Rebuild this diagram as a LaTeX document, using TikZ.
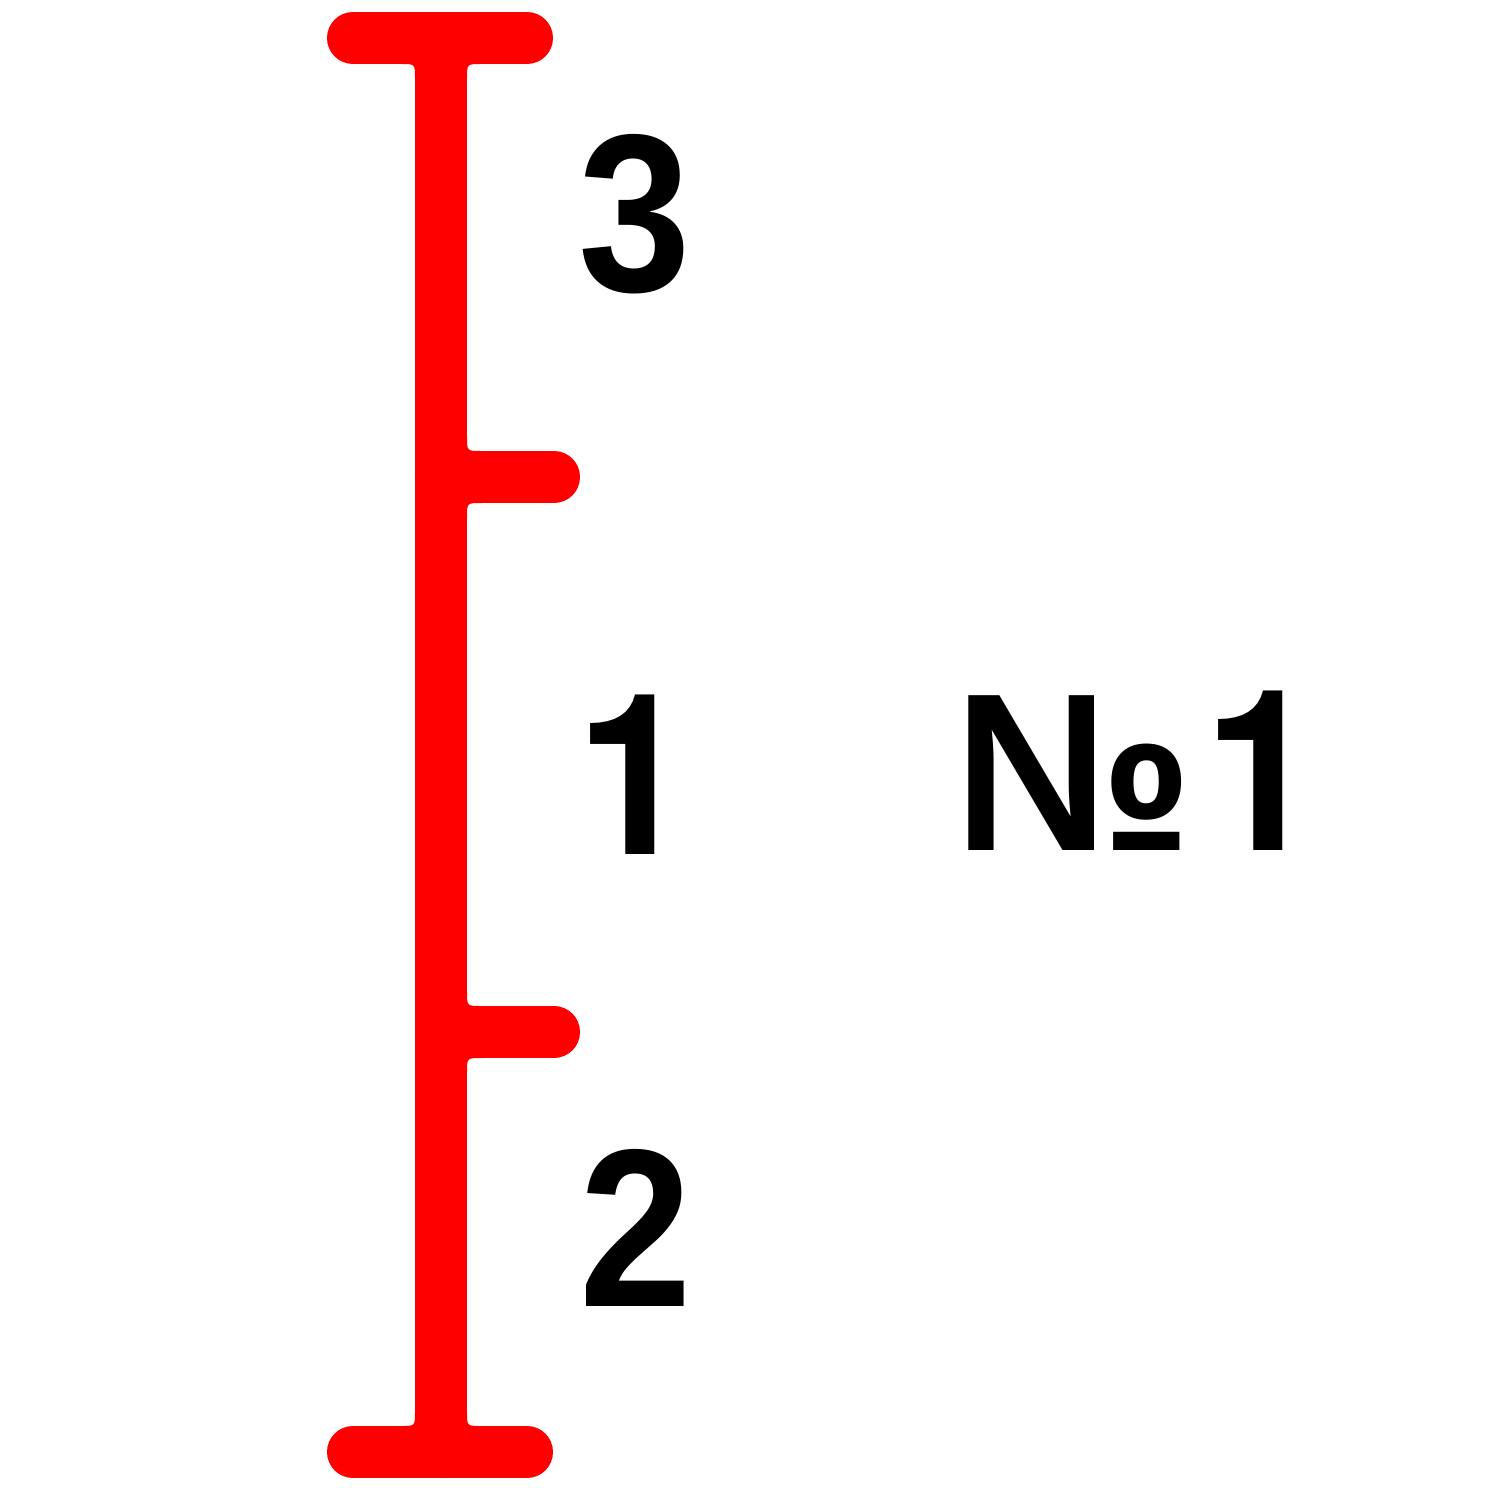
\documentclass[tikz,border=0pt]{standalone}
\usepackage{fontspec}
\setmainfont[FakeStretch=0.9]{Liberation Sans}
\newfontfamily\onefont[FakeStretch=0.92]{TeX Gyre Heros}
\newfontfamily\nofont[FakeStretch=0.95]{Liberation Sans}
\usetikzlibrary{positioning}
\begin{document}
\begin{tikzpicture}[x=0.01cm,y=-0.01cm]
\tikzstyle{bar}=[red, line width=0.52cm, line cap=round]
\tikzstyle{lbl}=[font=\fontsize{64}{64}\selectfont\bfseries, inner sep=0pt]
\useasboundingbox (0,0) rectangle (1500,1500);
% scale
\coordinate (top) at (441,38);
\coordinate (bot) at (441,1452);
\coordinate (capTL) at (353,38);
\coordinate (capTR) at (527,38);
\coordinate (capBL) at (353,1452);
\coordinate (capBR) at (527,1452);
\coordinate (tickA) at (441,477);
\coordinate (tickAend) at (554,477);
\coordinate (tickB) at (441,1032);
\coordinate (tickBend) at (554,1032);
\draw[bar] (top) -- (bot);
\draw[bar] (capTL) -- (capTR);
\draw[bar] (capBL) -- (capBR);
\draw[bar] (tickA) -- (tickAend);
\draw[bar] (tickB) -- (tickBend);
% fillets at the joints
\foreach \cx/\cy/\sx/\sy in {467/64/1/1, 415/64/-1/1, 467/1426/1/-1, 415/1426/-1/-1,
                             467/451/1/-1, 467/503/1/1, 467/1006/1/-1, 467/1058/1/1}
  \fill[red] (\cx,\cy) -- ++(0,\sy*14) .. controls (\cx,\cy) .. ++(\sx*14,-\sy*14) -- cycle;
% labels
\node[lbl] (n3) at (635,214) {3};
\node[lbl] (n1) at (634,775) {\onefont\bfseries 1};
\node[lbl] (n2) at (636,1228) {2};
\node[lbl] (num) at (1137,771) {{\nofont\bfseries №}\kern0.05em{\onefont\bfseries 1}};
\end{tikzpicture}
\end{document}
